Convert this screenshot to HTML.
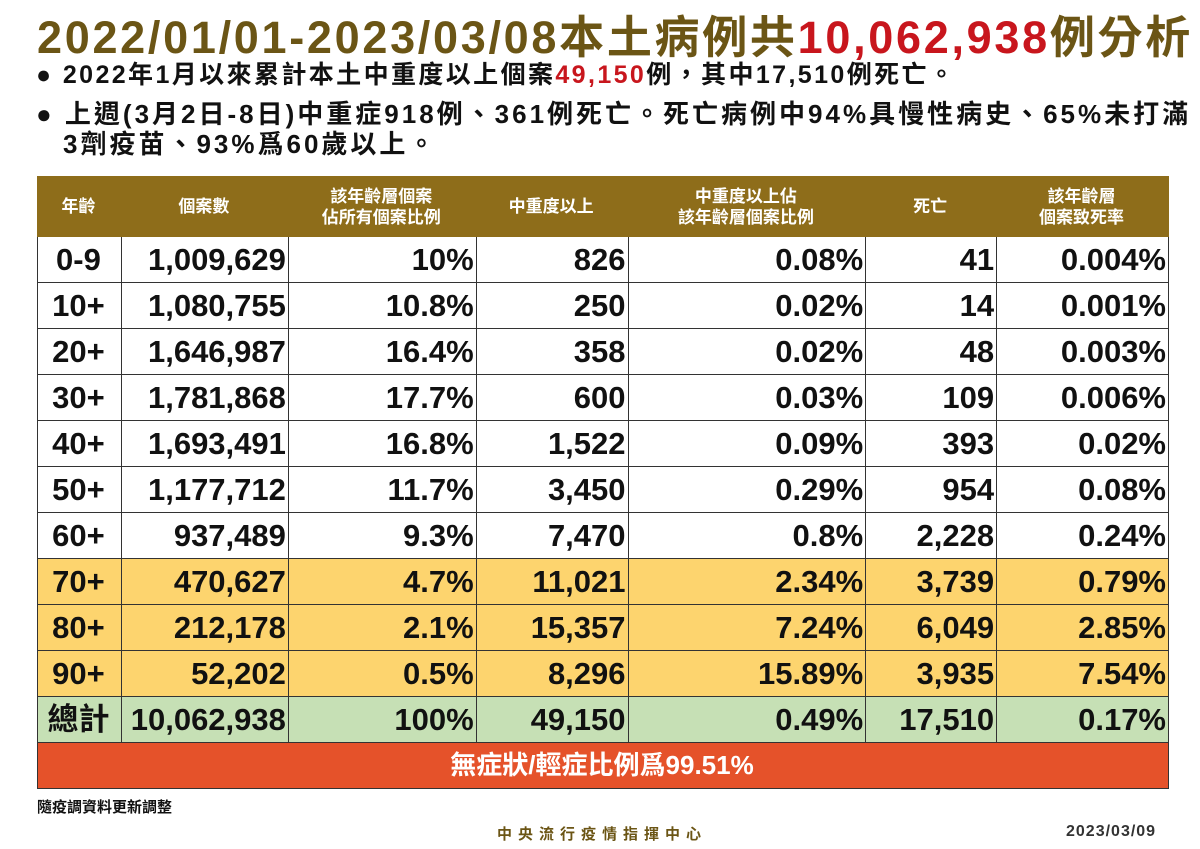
<!DOCTYPE html>
<html><head><meta charset="utf-8"><style>
body{margin:0;width:1200px;height:849px;background:#fff;font-family:"Liberation Sans","Noto Sans CJK TC",sans-serif;position:relative;overflow:hidden}
.t{position:absolute;white-space:nowrap;font-weight:bold}
table{position:absolute;left:37px;top:176px;border-collapse:collapse;width:1132px}
td{border:1px solid #333;font-weight:bold;font-size:31px;text-align:right;padding:0 2px 0 0;height:45px;line-height:45px;color:#111}
td:first-child{text-align:center}
tr.h td{background:#8e6d1a;color:#fff;font-size:17px;text-align:center;height:59px;line-height:21px;border-color:#8e6d1a}
tr.y td{background:#fdd46e}
tr.g td{background:#c6e0b5}
tr.r td{background:#e5522a;color:#fff;text-align:center;font-size:26px;height:44px}
</style></head><body>
<div class="t" style="left:37px;top:11px;font-size:45px;line-height:54px;letter-spacing:2.7px;color:#6b5515">2022/01/01-2023/03/08本土病例共<span style="color:#c8161d">10,062,938</span>例分析</div>
<div class="t" style="left:36px;top:60px;font-size:25px;line-height:30px;letter-spacing:2.4px;color:#111">●&nbsp;2022年1月以來累計本土中重度以上個案<span style="color:#c8161d">49,150</span>例，其中17,510例死亡。</div>
<div class="t" style="left:36px;top:99px;font-size:26px;line-height:30px;letter-spacing:3px;color:#111">●&nbsp;上週(3月2日-8日)中重症918例、361例死亡。死亡病例中94%具慢性病史、65%未打滿</div>
<div class="t" style="left:63px;top:129px;font-size:26px;line-height:30px;letter-spacing:3px;color:#111">3劑疫苗、93%爲60歲以上。</div>
<table>
<colgroup><col style="width:84px"><col style="width:167px"><col style="width:188px"><col style="width:152px"><col style="width:238px"><col style="width:131px"><col style="width:172px"></colgroup>
<tr class="h"><td>年齡</td><td>個案數</td><td>該年齡層個案<br>佔所有個案比例</td><td>中重度以上</td><td>中重度以上佔<br>該年齡層個案比例</td><td>死亡</td><td>該年齡層<br>個案致死率</td></tr>
<tr><td>0-9</td><td>1,009,629</td><td>10%</td><td>826</td><td>0.08%</td><td>41</td><td>0.004%</td></tr>
<tr><td>10+</td><td>1,080,755</td><td>10.8%</td><td>250</td><td>0.02%</td><td>14</td><td>0.001%</td></tr>
<tr><td>20+</td><td>1,646,987</td><td>16.4%</td><td>358</td><td>0.02%</td><td>48</td><td>0.003%</td></tr>
<tr><td>30+</td><td>1,781,868</td><td>17.7%</td><td>600</td><td>0.03%</td><td>109</td><td>0.006%</td></tr>
<tr><td>40+</td><td>1,693,491</td><td>16.8%</td><td>1,522</td><td>0.09%</td><td>393</td><td>0.02%</td></tr>
<tr><td>50+</td><td>1,177,712</td><td>11.7%</td><td>3,450</td><td>0.29%</td><td>954</td><td>0.08%</td></tr>
<tr><td>60+</td><td>937,489</td><td>9.3%</td><td>7,470</td><td>0.8%</td><td>2,228</td><td>0.24%</td></tr>
<tr class="y"><td>70+</td><td>470,627</td><td>4.7%</td><td>11,021</td><td>2.34%</td><td>3,739</td><td>0.79%</td></tr>
<tr class="y"><td>80+</td><td>212,178</td><td>2.1%</td><td>15,357</td><td>7.24%</td><td>6,049</td><td>2.85%</td></tr>
<tr class="y"><td>90+</td><td>52,202</td><td>0.5%</td><td>8,296</td><td>15.89%</td><td>3,935</td><td>7.54%</td></tr>
<tr class="g"><td>總計</td><td>10,062,938</td><td>100%</td><td>49,150</td><td>0.49%</td><td>17,510</td><td>0.17%</td></tr>
<tr class="r"><td colspan="7">無症狀/輕症比例爲99.51%</td></tr>
</table>
<div class="t" style="left:37px;top:796px;font-size:15px;color:#111">隨疫調資料更新調整</div>
<div class="t" style="left:497px;top:823px;font-size:15px;color:#6b5515;letter-spacing:6px">中央流行疫情指揮中心</div>
<div class="t" style="left:1066px;top:823px;font-size:16px;letter-spacing:1px;color:#333">2023/03/09</div>
</body></html>
